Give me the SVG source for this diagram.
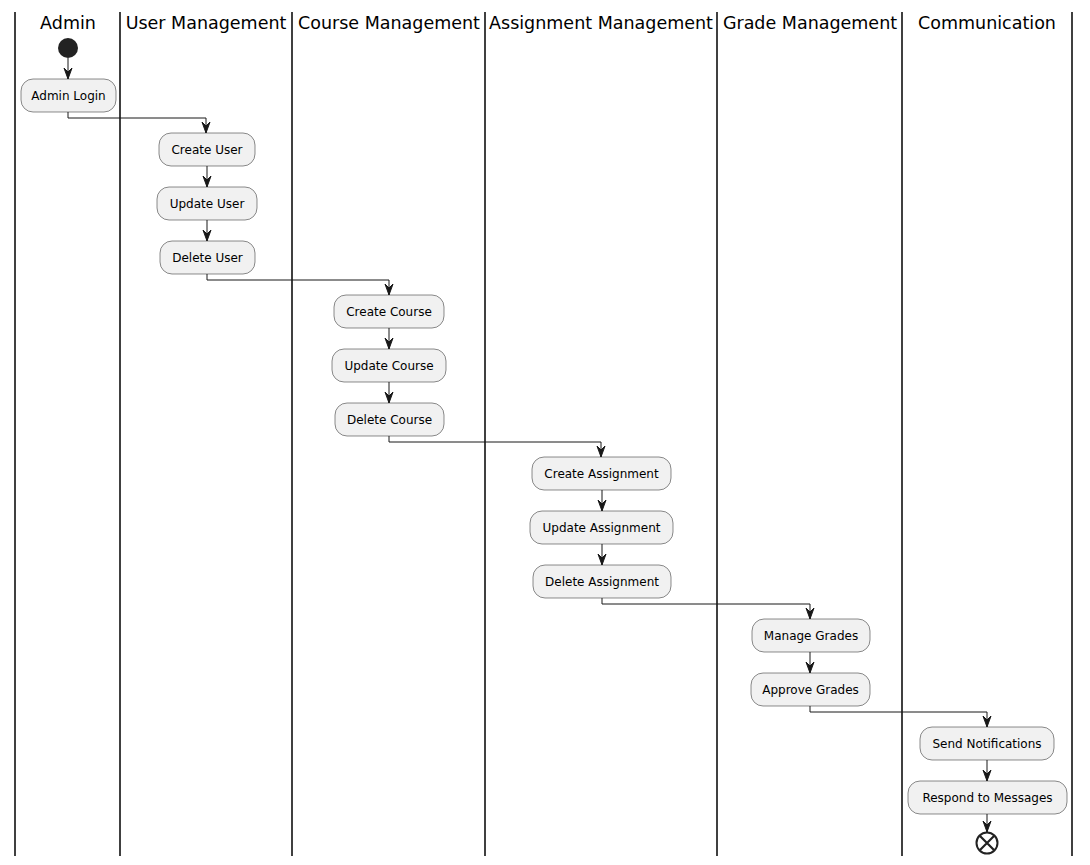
<svg xmlns="http://www.w3.org/2000/svg" width="1090" height="865" viewBox="0 0 1090 865">
<defs>
<style>
.lane{stroke:#000;stroke-width:1.5;fill:none}
.title{font-family:"DejaVu Sans",sans-serif;font-size:17.5px;fill:#000;text-anchor:middle}
.act rect{fill:#F1F1F1;stroke:#181818;stroke-width:0.5}
.act text{font-family:"DejaVu Sans",sans-serif;font-size:12px;fill:#000;text-anchor:middle}
.conn path{stroke:#181818;stroke-width:1;fill:none}
.conn polygon{fill:#181818;stroke:#181818;stroke-width:1}
</style>
</defs>
<rect width="1090" height="865" fill="#fff"/>
<g id="lanes">
<line class="lane" x1="15" y1="12" x2="15" y2="856"/>
<line class="lane" x1="120" y1="12" x2="120" y2="856"/>
<line class="lane" x1="292" y1="12" x2="292" y2="856"/>
<line class="lane" x1="485" y1="12" x2="485" y2="856"/>
<line class="lane" x1="717" y1="12" x2="717" y2="856"/>
<line class="lane" x1="902" y1="12" x2="902" y2="856"/>
<line class="lane" x1="1072" y1="12" x2="1072" y2="856"/>
<text class="title" x="68" y="29">Admin</text>
<text class="title" x="206" y="29">User Management</text>
<text class="title" x="389" y="29">Course Management</text>
<text class="title" x="601" y="29">Assignment Management</text>
<text class="title" x="810" y="29">Grade Management</text>
<text class="title" x="987" y="29">Communication</text>
</g>
<g id="start"><circle cx="68" cy="48" r="10" fill="#222"/></g>
<g id="admin-login" class="act"><rect x="21" y="79" width="95" height="33" rx="12"/><text x="68.5" y="100">Admin Login</text></g>
<g id="create-user" class="act"><rect x="159" y="133" width="96" height="33" rx="12"/><text x="207" y="154">Create User</text></g>
<g id="update-user" class="act"><rect x="157" y="187" width="100" height="33" rx="12"/><text x="207" y="208">Update User</text></g>
<g id="delete-user" class="act"><rect x="160" y="241" width="95" height="33" rx="12"/><text x="207.5" y="262">Delete User</text></g>
<g id="create-course" class="act"><rect x="334" y="295" width="110" height="33" rx="12"/><text x="389" y="316">Create Course</text></g>
<g id="update-course" class="act"><rect x="332" y="349" width="114" height="33" rx="12"/><text x="389" y="370">Update Course</text></g>
<g id="delete-course" class="act"><rect x="335" y="403" width="109" height="33" rx="12"/><text x="389.5" y="424">Delete Course</text></g>
<g id="create-assignment" class="act"><rect x="532" y="457" width="139" height="33" rx="12"/><text x="601.5" y="478">Create Assignment</text></g>
<g id="update-assignment" class="act"><rect x="530" y="511" width="143" height="33" rx="12"/><text x="601.5" y="532">Update Assignment</text></g>
<g id="delete-assignment" class="act"><rect x="533" y="565" width="138" height="33" rx="12"/><text x="602" y="586">Delete Assignment</text></g>
<g id="manage-grades" class="act"><rect x="752" y="619" width="118" height="33" rx="12"/><text x="811" y="640">Manage Grades</text></g>
<g id="approve-grades" class="act"><rect x="751" y="673" width="119" height="33" rx="12"/><text x="810.5" y="694">Approve Grades</text></g>
<g id="send-notifications" class="act"><rect x="920" y="727" width="134" height="33" rx="12"/><text x="987" y="748">Send Notifications</text></g>
<g id="respond-messages" class="act"><rect x="908" y="781" width="159" height="33" rx="12"/><text x="987.5" y="802">Respond to Messages</text></g>
<g id="end"><circle cx="987" cy="843" r="10.5" fill="#fff" stroke="#222" stroke-width="2"/><path d="M980,836 L994,850 M994,836 L980,850" stroke="#222" stroke-width="2.2"/></g>
<g id="connectors" class="conn">
<path d="M68,58 V79"/><polygon points="64,68 68,79 72,68 68,72"/>
<path d="M68,112 V118 H206 V133"/><polygon points="202,122 206,133 210,122 206,126"/>
<path d="M207,166 V187"/><polygon points="203,176 207,187 211,176 207,180"/>
<path d="M207,220 V241"/><polygon points="203,230 207,241 211,230 207,234"/>
<path d="M207,274 V280 H389 V295"/><polygon points="385,284 389,295 393,284 389,288"/>
<path d="M389,328 V349"/><polygon points="385,338 389,349 393,338 389,342"/>
<path d="M389,382 V403"/><polygon points="385,392 389,403 393,392 389,396"/>
<path d="M389,436 V442 H601 V457"/><polygon points="597,446 601,457 605,446 601,450"/>
<path d="M602,490 V511"/><polygon points="598,500 602,511 606,500 602,504"/>
<path d="M602,544 V565"/><polygon points="598,554 602,565 606,554 602,558"/>
<path d="M602,598 V604 H810 V619"/><polygon points="806,608 810,619 814,608 810,612"/>
<path d="M810,652 V673"/><polygon points="806,662 810,673 814,662 810,666"/>
<path d="M810,706 V712 H987 V727"/><polygon points="983,716 987,727 991,716 987,720"/>
<path d="M987,760 V781"/><polygon points="983,770 987,781 991,770 987,774"/>
<path d="M987,814 V832"/><polygon points="983,821 987,832 991,821 987,825"/>
</g>
</svg>
